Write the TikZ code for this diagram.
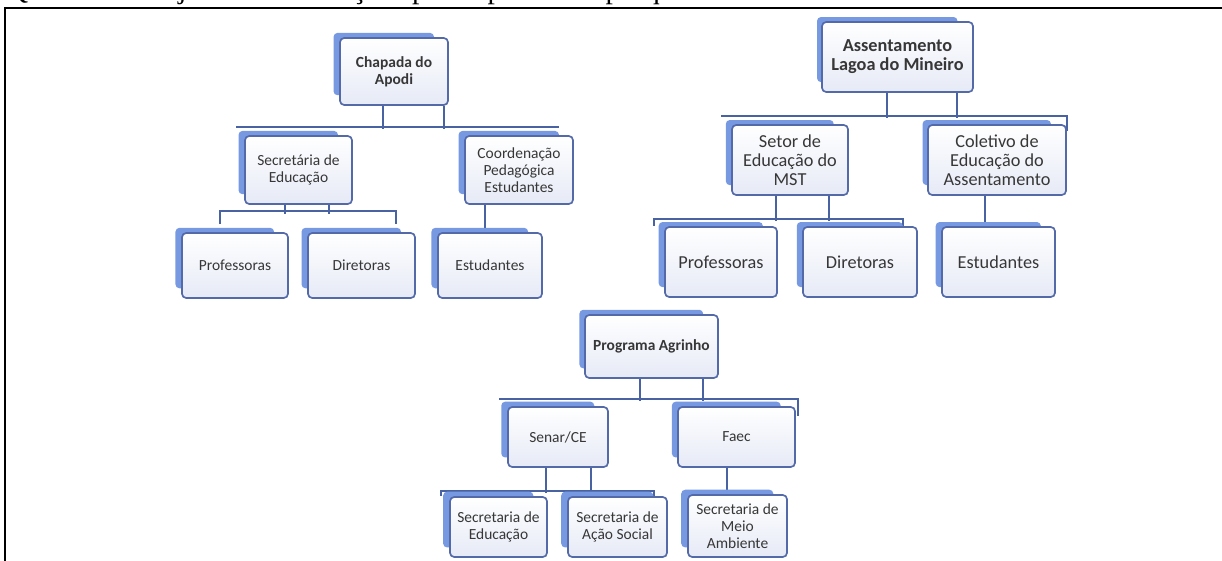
\documentclass[tikz,border=0pt]{standalone}
\usepackage{fontspec}
\setmainfont{Carlito}
\newfontfamily\legenda{Liberation Serif}
\usetikzlibrary{shadows,calc,backgrounds}
\definecolor{borda}{RGB}{84,106,168}
\definecolor{sombra}{RGB}{118,153,226}
\definecolor{fundo}{RGB}{230,234,246}
\definecolor{linha}{RGB}{72,98,162}
\definecolor{texto}{RGB}{55,55,55}

\tikzset{
  caixa/.style={draw=borda, line width=1.2pt, rounded corners=3pt,
    top color=white, bottom color=fundo, text=texto, align=center, inner sep=1pt,
    font=\fontsize{11}{12}\selectfont,
    general shadow={fill=sombra, shadow xshift=-0.275cm, shadow yshift=0.2cm, shadow scale=0.93}},
  caixag/.style={caixa, font=\fontsize{13}{13.5}\selectfont},
  raiz/.style={caixa, font=\fontsize{11}{12}\selectfont\bfseries},
  raizg/.style={caixa, font=\fontsize{13}{13.5}\selectfont\bfseries},
  liga/.style={draw=linha, line width=1.3pt}
}

\begin{document}
\begin{tikzpicture}[x=0.025cm, y=-0.025cm]
  \useasboundingbox (0,0) rectangle (1222,560);
  \clip (0,0) rectangle (1222,560);

  \node[anchor=base west, font=\legenda\fontsize{21}{21}\selectfont] (titulo) at (2,-1.5)
    {Quadro 1 – Sujeitos e instituições participantes da pesquisa};
  \draw[line width=1.4pt] (5,570) -- (5,8) -- (1230,8);

  % Chapada do Apodi
  \node[raiz, minimum width=2.7cm, minimum height=1.675cm] (chapada) at (394,71.5) {Chapada do\\Apodi};
  \node[caixa, minimum width=2.675cm, minimum height=1.7cm] (secEdu) at (298.5,170) {Secretária de\\Educação};
  \node[caixa, minimum width=2.7cm, minimum height=1.7cm] (coordPed) at (519,170) {Coordenação\\Pedagógica\\Estudantes};
  \node[caixa, minimum width=2.65cm, minimum height=1.625cm] (prof1) at (235,265.5) {Professoras};
  \node[caixa, minimum width=2.675cm, minimum height=1.625cm] (dir1) at (361.5,265.5) {Diretoras};
  \node[caixa, minimum width=2.6cm, minimum height=1.625cm] (est1) at (490,265.5) {Estudantes};

  % Assentamento Lagoa do Mineiro
  \node[raizg, minimum width=3.775cm, minimum height=1.75cm] (assent) at (897.5,57) {Assentamento\\Lagoa do Mineiro};
  \node[caixag, minimum width=2.9cm, minimum height=1.75cm] (setor) at (790,160) {Setor de\\Educação do\\MST};
  \node[caixag, minimum width=3.45cm, minimum height=1.75cm] (coletivo) at (997,160) {Coletivo de\\Educação do\\Assentamento};
  \node[caixag, minimum width=2.8cm, minimum height=1.75cm] (prof2) at (721,262) {Professoras};
  \node[caixag, minimum width=2.85cm, minimum height=1.75cm] (dir2) at (860,262) {Diretoras};
  \node[caixag, minimum width=2.825cm, minimum height=1.75cm] (est2) at (998.5,262) {Estudantes};

  % Programa Agrinho
  \node[raiz, minimum width=3.325cm, minimum height=1.575cm] (agrinho) at (651.5,346.5) {Programa Agrinho};
  \node[caixa, minimum width=2.5cm, minimum height=1.5cm] (senar) at (558,437) {Senar/CE};
  \node[caixa, minimum width=2.925cm, minimum height=1.5cm] (faec) at (736.5,437) {Faec};
  \node[caixa, minimum width=2.425cm, minimum height=1.5cm] (secEdu3) at (498.5,527) {Secretaria de\\Educação};
  \node[caixa, minimum width=2.475cm, minimum height=1.5cm] (secAcao) at (617.5,527) {Secretaria de\\Ação Social};
  \node[caixa, minimum width=2.475cm, minimum height=1.55cm] (secMeio) at (737.5,526) {Secretaria de\\Meio\\Ambiente};

  \begin{scope}[on background layer]
    \draw[liga] ($(secEdu.north west)+(-8,-8)$) -- ($(coordPed.north east)+(-15,-8)$)
      ($(chapada.south)+(-11,0)$) -- ++(0,23)
      ($(chapada.south east)+(-5,0)$) -- ++(0,23);
    \draw[liga] ($(prof1.north)+(-15,-8)$) |- ($(dir1.north east)+(-20,-21)$) -- ++(0,13)
      ($(secEdu.south)+(-13.5,0)$) -- ++(0,9)
      ($(secEdu.south east)+(-24,0)$) -- ++(0,9);
    \draw[liga] ($(coordPed.south)+(-34,0)$) -- ($(coordPed.south |- est1.north)+(-34,0)$);

    \draw[liga] ($(setor.north west)+(-10,-8)$) -- ($(coletivo.north east)+(0,-8)$) -- ($(coletivo.north east)+(0,7)$)
      ($(assent.south)+(-10.5,0)$) -- ++(0,25)
      ($(assent.south east)+(-17,0)$) -- ++(0,25);
    \draw[liga] ($(prof2.north west)+(-10,0)$) |- ($(dir2.north east)+(-15,-7)$) -- ++(0,7)
      ($(setor.south)+(-14,0)$) -- ++(0,25)
      ($(setor.south east)+(-20,0)$) -- ++(0,25);
    \draw[liga] ($(coletivo.south)+(-12,0)$) -- ($(coletivo.south |- est2.north)+(-12,0)$);

    \draw[liga] ($(senar.north west)+(-8,-7)$) -- ($(faec.north east)+(2,-7)$) -- ($(faec.north east)+(2,10)$)
      ($(agrinho.south)+(-11.5,0)$) -- ++(0,22)
      ($(agrinho.south east)+(-16,0)$) -- ++(0,22);
    \draw[liga] ($(secEdu3.north west)+(-8,0)$) |- ($(secAcao.north east)+(-14,-5)$) -- ++(0,5)
      ($(senar.south)+(-12,0)$) -- ++(0,25)
      ($(senar.south east)+(-18,0)$) -- ++(0,25);
    \draw[liga] ($(faec.south)+(-9.5,0)$) -- ($(faec.south |- secMeio.north)+(-9.5,0)$);
  \end{scope}
\end{tikzpicture}
\end{document}
